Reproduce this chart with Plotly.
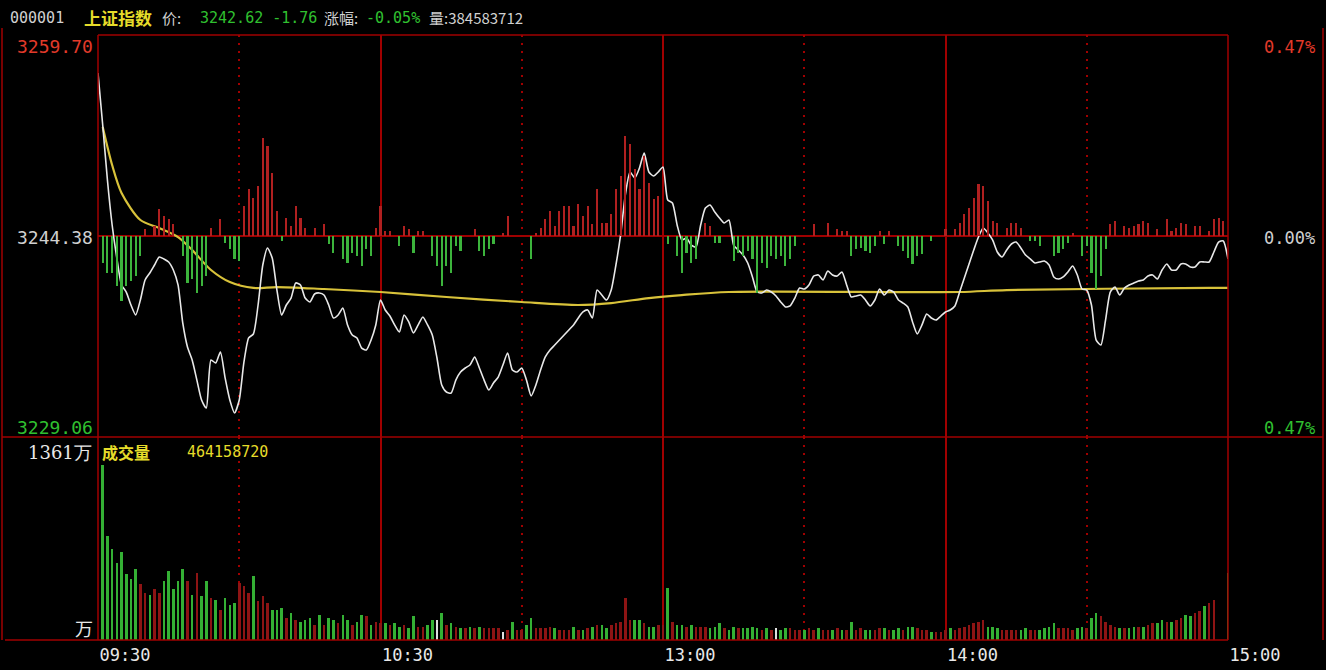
import plotly.graph_objects as go

# ---------------- data ----------------
time_labels = ["09:30", "10:30", "13:00", "14:00", "15:00"]
time_ticks = [0, 60, 120, 180, 240]
half_ticks = [30, 90, 150, 210]

prev_close = 3244.38
price_top = 3259.70
price_bottom = 3229.06
pct_labels = ["0.47%", "0.00%", "0.47%"]
vol_max_label = "1361万"
vol_unit_label = "万"
total_volume = "464158720"

header_code = "000001"
header_name = "上证指数"
header_price = "3242.62 -1.76"
header_change = "-0.05%"
header_volume = "384583712"

minutes = list(range(241))

price = [
    3256.80, 3252.84, 3248.65, 3245.22, 3242.70, 3240.65, 3240.11, 3239.12, 3238.36, 3239.50,
    3241.03, 3241.56, 3242.17, 3242.78, 3242.63, 3242.40, 3241.79, 3240.65, 3237.75, 3235.92,
    3234.93, 3233.40, 3231.88, 3231.27, 3234.93, 3234.70, 3235.54, 3233.56, 3231.88, 3230.89,
    3231.88, 3234.78, 3236.61, 3236.91, 3239.12, 3242.17, 3243.47, 3242.70, 3240.26, 3238.36,
    3239.12, 3239.65, 3240.80, 3240.65, 3239.65, 3239.35, 3239.96, 3240.04, 3239.88, 3239.12,
    3238.13, 3238.36, 3238.89, 3237.60, 3236.83, 3236.61, 3235.84, 3235.69, 3236.45, 3237.60,
    3239.50, 3238.74, 3238.28, 3237.60, 3237.06, 3238.36, 3237.83, 3236.99, 3237.60, 3238.21,
    3237.60, 3236.83, 3235.08, 3233.02, 3232.49, 3232.41, 3233.40, 3234.01, 3234.32, 3234.55,
    3235.16, 3234.32, 3233.40, 3232.64, 3233.18, 3233.63, 3234.55, 3235.46, 3234.17, 3234.01,
    3234.32, 3233.40, 3232.19, 3233.02, 3234.17, 3235.16, 3235.69, 3236.07, 3236.45, 3236.83,
    3237.22, 3237.60, 3238.13, 3238.59, 3238.74, 3238.13, 3240.26, 3239.88, 3239.50, 3240.26,
    3242.17, 3244.46, 3247.51, 3249.26, 3248.80, 3249.56, 3250.71, 3249.26, 3248.95, 3249.26,
    3249.64, 3247.12, 3246.90, 3245.22, 3244.08, 3244.23, 3243.69, 3243.54, 3245.22, 3246.51,
    3246.74, 3246.21, 3245.75, 3245.37, 3245.60, 3243.69, 3243.31, 3242.93, 3242.32, 3241.26,
    3240.11, 3240.04, 3240.26, 3240.11, 3239.81, 3239.35, 3238.97, 3239.05, 3239.65, 3240.42,
    3240.34, 3240.65, 3241.33, 3241.41, 3241.03, 3241.71, 3241.41, 3241.33, 3241.64, 3240.65,
    3239.73, 3239.81, 3239.88, 3239.50, 3239.05, 3239.50, 3240.34, 3239.88, 3240.26, 3240.11,
    3239.50, 3239.27, 3238.97, 3237.83, 3236.91, 3237.60, 3238.44, 3238.13, 3237.98, 3238.28,
    3238.59, 3238.74, 3239.05, 3240.11, 3241.18, 3242.25, 3243.31, 3244.30, 3244.99, 3244.61,
    3244.08, 3243.16, 3242.78, 3243.31, 3243.77, 3243.92, 3243.47, 3242.93, 3242.63, 3242.32,
    3242.40, 3242.47, 3242.17, 3241.26, 3241.10, 3241.26, 3241.64, 3242.09, 3241.41, 3240.34,
    3240.26, 3239.12, 3236.45, 3236.07, 3237.98, 3240.11, 3240.49, 3239.88, 3240.42, 3240.65,
    3240.80, 3240.95, 3241.03, 3241.33, 3241.41, 3241.10, 3241.79, 3242.25, 3241.79, 3241.79,
    3242.25, 3242.25, 3242.02, 3242.02, 3242.40, 3242.40, 3242.40, 3243.16, 3243.92, 3244.00,
    3242.62,
]

avg_minutes = [1, 3, 5, 9, 13, 17, 20, 24, 28, 33, 38, 48, 60, 74, 90, 102, 109, 117, 124,
               134, 183, 193, 236, 240]
avg_price = [3252.69, 3249.79, 3247.66, 3245.60, 3244.99, 3244.30, 3243.31, 3241.79, 3240.87,
             3240.42, 3240.49, 3240.34, 3240.11, 3239.73, 3239.35, 3239.12, 3239.27, 3239.65,
             3239.88, 3240.11, 3240.11, 3240.26, 3240.42, 3240.42]

strength = [
    0, -27, -37, -37, -50, -65, -50, -45, -40, -20,
    7, 0, 10, 27, 20, 17, 12, 0, -20, -47,
    -43, -57, -50, -40, 8, 0, 17, -7, -13, -23,
    -25, 30, 47, 38, 50, 98, 90, 63, 25, -5,
    18, 10, 30, 18, 8, 0, 8, 0, 12, -8,
    -17, 0, -23, -27, -17, -20, -30, -13, -20, 8,
    30, 5, 5, 0, -10, 10, 7, -17, 5, 5,
    0, -20, -30, -50, -30, -37, -10, -15, 0, 0,
    7, -15, -20, -13, -8, 0, 3, 20, 0, 0,
    0, 0, -23, 3, 8, 17, 25, 10, 25, 30,
    30, 10, 32, 20, 30, 12, 47, 13, 13, 22,
    47, 60, 100, 92, 67, 47, 80, 53, 37, 40,
    0, -8, 0, -20, -37, -17, -27, -23, 0, 13,
    10, -7, -7, 0, 0, -25, -17, -20, -15, -23,
    -57, -27, -32, -20, -23, -20, -30, -23, -10, 0,
    0, 0, 12, 0, 0, 13, 0, 7, 5, 5,
    -20, -13, -12, -15, -17, -10, 5, -8, 5, 0,
    -10, -15, -22, -28, -20, -18, 0, -5, 0, 0,
    7, 0, 7, 13, 22, 28, 38, 52, 50, 35,
    15, 13, 0, 8, 13, 13, 8, 0, -5, -5,
    -10, 0, 0, -20, -17, -13, -7, 3, 0, -20,
    -10, -37, -53, -40, -13, 12, 15, 0, 10, 8,
    10, 12, 15, 13, 0, 7, 0, 17, 5, 8,
    13, 12, 0, 10, 10, 0, 5, 17, 18, 15,
    0,
]

volume = [
    0, 1240, 739, 644, 549, 620, 465, 429, 501, 394,
    334, 322, 358, 334, 417, 489, 358, 417, 501, 417,
    322, 477, 310, 417, 298, 286, 215, 298, 250, 262,
    405, 382, 334, 453, 274, 310, 262, 215, 215, 227,
    155, 191, 143, 131, 143, 155, 107, 179, 107, 155,
    143, 119, 179, 143, 107, 131, 179, 167, 107, 131,
    119, 119, 107, 119, 95, 107, 83, 167, 95, 95,
    107, 143, 143, 191, 107, 119, 95, 83, 83, 95,
    83, 95, 83, 83, 83, 83, 60, 72, 131, 72,
    72, 107, 155, 83, 83, 83, 95, 83, 72, 72,
    72, 95, 72, 72, 83, 95, 107, 107, 83, 107,
    119, 131, 298, 143, 143, 143, 119, 95, 95, 107,
    107, 370, 131, 107, 107, 95, 107, 95, 95, 95,
    83, 95, 119, 83, 72, 95, 83, 83, 83, 95,
    83, 72, 83, 72, 83, 72, 83, 83, 72, 72,
    72, 83, 72, 83, 72, 72, 72, 83, 72, 72,
    131, 72, 83, 72, 72, 72, 83, 83, 72, 72,
    83, 72, 95, 95, 83, 72, 72, 60, 60, 60,
    72, 83, 72, 83, 95, 107, 119, 131, 143, 95,
    95, 83, 72, 72, 72, 72, 72, 83, 72, 72,
    72, 83, 95, 119, 83, 83, 83, 72, 83, 95,
    83, 155, 191, 167, 131, 107, 95, 83, 83, 83,
    95, 95, 95, 107, 119, 119, 143, 131, 131, 143,
    155, 179, 167, 191, 203, 238, 262, 286, 0, 0,
    477,
]

volume_dir = (
    "gggggggggr"
    "rgrrgggggr"
    "grggrgrggg"
    "rrrgrrrggg"
    "rgrgggrgrg"
    "grggrggrgr"
    "rgrggrggrr"
    "ggwgrgrgrg"
    "rgrrrrwrgr"
    "rggrrrrgrr"
    "rgrgrgrggr"
    "rrrrggrggr"
    "rgrggrgrrr"
    "gggrggrggg"
    "grgrwggrrr"
    "grrgrrgrgr"
    "grrggrrgrg"
    "grggrrrgrr"
    "rgrrrrrrrg"
    "ggrrrrggrr"
    "ggggrrrrgg"
    "rggrrrrgrg"
    "grgrrggrgr"
    "rggrrgrrrr"
    "g"
)

# ---------------- styling ----------------
BG = "#000000"
FRAME = "#a00000"
RED_BAR = "#b02020"
GREEN_BAR = "#3cb43c"
VOL_RED = "#8e1414"
VOL_GREEN = "#34b034"
WHITE_LINE = "#e8e8e8"
AVG_LINE = "#d8c23a"
TXT_GREY = "#d0d0d0"
TXT_RED = "#e23a2a"
TXT_GREEN = "#30c030"
TXT_YELLOW = "#e6dc2a"
MONO = "DejaVu Sans Mono"
CJK = "Noto Sans CJK SC"

W, H = 1326, 670
L, R, T, B = 98, 1228, 35, 640
SEP = 437
upper_frac = (B - SEP) / (B - T)

vol_top = 1438
str_half = 201


def px(x):
    return (x - L) / (R - L)


def py(y):
    return (B - y) / (B - T)


fig = go.Figure()

# strength bars in upper panel
str_colors = [RED_BAR if v >= 0 else GREEN_BAR for v in strength]
fig.add_trace(go.Bar(x=minutes, y=strength, width=0.45, marker=dict(color=str_colors, line=dict(width=0)),
                     xaxis="x", yaxis="y3", hoverinfo="skip", showlegend=False))

# volume bars
cmap = {"r": VOL_RED, "g": VOL_GREEN, "w": "#e0e0e0"}
vol_colors = [cmap[c] for c in volume_dir[:len(volume)]]
fig.add_trace(go.Bar(x=minutes, y=volume, width=0.55, marker=dict(color=vol_colors, line=dict(width=0)),
                     xaxis="x", yaxis="y2", hoverinfo="skip", showlegend=False))

# average price line
fig.add_trace(go.Scatter(x=avg_minutes, y=avg_price, mode="lines",
                         line=dict(color=AVG_LINE, width=2.2, shape="spline", smoothing=0.8),
                         xaxis="x", yaxis="y", showlegend=False))

# price line
fig.add_trace(go.Scatter(x=minutes, y=price, mode="lines",
                         line=dict(color=WHITE_LINE, width=1.6, shape="spline", smoothing=0.6),
                         xaxis="x", yaxis="y", showlegend=False))

fig.update_layout(
    width=W, height=H,
    paper_bgcolor=BG, plot_bgcolor=BG,
    margin=dict(l=L, r=W - R, t=T, b=H - B, autoexpand=False),
    bargap=0, barmode="overlay",
    xaxis=dict(domain=[0, 1], range=[0, 240], anchor="y2", automargin=False,
               tickvals=time_ticks, ticktext=time_labels,
               tickfont=dict(family=MONO, size=17, color="#e8e8e8"),
               ticks="", ticklabelshift=27, ticklabelstandoff=3,
               showgrid=True, gridcolor=FRAME, gridwidth=1.5,
               minor=dict(tickvals=half_ticks, showgrid=True, gridcolor=FRAME,
                          griddash="2px,6px", gridwidth=1.5),
               zeroline=False, showline=False),
    yaxis=dict(domain=[upper_frac, 1], range=[price_bottom, price_top], automargin=False,
               tickvals=[prev_close], showticklabels=False, ticks="",
               showgrid=True, gridcolor=FRAME, gridwidth=1.5, zeroline=False),
    yaxis3=dict(overlaying="y", range=[-str_half, str_half], visible=False),
    yaxis2=dict(domain=[0, upper_frac], range=[0, vol_top], visible=False),
)

shapes = []
line = dict(color=FRAME, width=1.5)
# frame lines
shapes.append(dict(type="line", xref="paper", yref="paper", x0=px(L), x1=px(R), y0=py(T), y1=py(T), line=line))
shapes.append(dict(type="line", xref="paper", yref="paper", x0=px(L), x1=px(L), y0=py(T), y1=py(B), line=line))
shapes.append(dict(type="line", xref="paper", yref="paper", x0=px(R), x1=px(R), y0=py(T), y1=py(B), line=line))
shapes.append(dict(type="line", xref="paper", yref="paper", x0=px(2), x1=px(1323), y0=py(SEP), y1=py(SEP), line=line))
shapes.append(dict(type="line", xref="paper", yref="paper", x0=px(5), x1=px(R), y0=py(B), y1=py(B), line=line))
shapes.append(dict(type="line", xref="paper", yref="paper", x0=px(1323), x1=px(1323), y0=py(28), y1=py(B), line=line))
shapes.append(dict(type="line", xref="paper", yref="paper", x0=px(2), x1=px(2), y0=py(28), y1=py(B), line=line))
fig.update_layout(shapes=shapes)

ann = []


def text(x, y, s, color, size=15, family=MONO, anchor="left"):
    ann.append(dict(x=px(x), y=py(y), xref="paper", yref="paper", text=s, showarrow=False,
                    xanchor=anchor, yanchor="middle", font=dict(family=family, size=size, color=color)))


# header
text(8, 18, header_code, TXT_GREY, 15)
text(82, 18, "<b>" + header_name + "</b>", TXT_YELLOW, 17, CJK)
text(160, 18, "价:", TXT_GREY, 15, CJK)
text(198, 18, header_price, TXT_GREEN, 15)
text(322, 18, "涨幅:", TXT_GREY, 15, CJK)
text(364, 18, header_change, TXT_GREEN, 15)
text(427, 18, "量:" + header_volume, TXT_GREY, 15, CJK)

# left price labels
text(95, 47, f"{price_top:.2f}", TXT_RED, 18, anchor="right")
text(95, 238, f"{prev_close:.2f}", TXT_GREY, 18, anchor="right")
text(95, 428, f"{price_bottom:.2f}", TXT_GREEN, 18, anchor="right")
# right percent labels
text(1262, 47, pct_labels[0], TXT_RED, 17)
text(1262, 238, pct_labels[1], TXT_GREY, 17)
text(1262, 428, pct_labels[2], TXT_GREEN, 17)

# volume panel labels
text(94, 452, vol_max_label, "#e8e8e8", 18, "DejaVu Serif", anchor="right")
text(100, 452, "<b>成交量</b>", TXT_YELLOW, 16, CJK)
text(185, 452, total_volume, TXT_YELLOW, 15)
text(95, 628, vol_unit_label, "#e8e8e8", 18, CJK, anchor="right")

fig.update_layout(annotations=ann)

fig.write_html(
    "out.html",
    config={"displayModeBar": False},
    post_script="document.body.style.margin='0';document.body.style.overflow='hidden';",
)
